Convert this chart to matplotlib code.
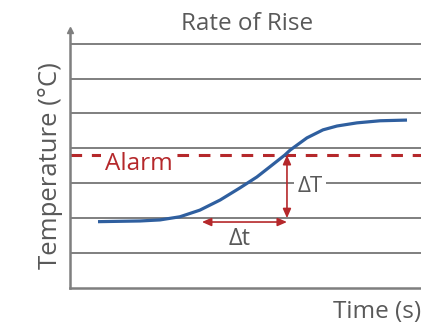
import matplotlib
matplotlib.use("Agg")
import matplotlib.pyplot as plt

plt.rcParams['font.family'] = ['Open Sans', 'DejaVu Sans']

# temperature curve (arbitrary units)
time_vals = [0.8, 2.0, 2.57, 3.14, 3.71, 4.29, 4.86, 5.34, 5.71, 6.14, 6.29,
             6.77, 7.23, 7.63, 8.2, 8.86, 9.63]
temp_vals = [1.90, 1.92, 1.95, 2.04, 2.23, 2.52, 2.87, 3.18, 3.47, 3.81, 3.95,
             4.30, 4.53, 4.64, 4.73, 4.79, 4.81]
grid_levels = [1, 2, 3, 4, 5, 6, 7]
alarm_level = 3.81
dT_x, dT_bottom = 6.2, 2.0
dt_start, dt_end, dt_level = 3.77, 6.2, 1.89

grey = '#7f7f7f'
txt = '#595959'
red = '#b5282b'
blue = '#2f5f9f'

fig = plt.figure(figsize=(4.21, 3.24), dpi=100)
ax = fig.add_axes([70 / 421, 36 / 324, 351 / 421, 258 / 324])
ax.set_xlim(0, 10.03)
ax.set_ylim(0, 7.39)

for g in grid_levels:
    ax.axhline(g, color=grey, lw=1.4, zorder=1)

ax.axhline(alarm_level, color=red, lw=2.2, dashes=(3.8, 3.2), zorder=2)
ax.plot(time_vals, temp_vals, color=blue, lw=2.3, solid_capstyle='butt',
        solid_joinstyle='round', zorder=4)

# delta arrows
arrow = dict(arrowstyle='<|-|>,head_length=0.5,head_width=0.22', color=red, lw=1.2,
             mutation_scale=11, shrinkA=0, shrinkB=0)
ax.annotate('', xy=(dT_x, alarm_level), xytext=(dT_x, dT_bottom), arrowprops=arrow, zorder=5)
ax.annotate('', xy=(dt_start, dt_level), xytext=(dt_end, dt_level), arrowprops=arrow, zorder=5)

box = dict(facecolor='white', edgecolor='none', pad=2.5)
ax.text(1.96, 3.38, 'Alarm', color=red, fontsize=17.5, ha='center', va='baseline',
        bbox=box, zorder=3)
ax.text(6.86, 2.75, 'ΔT', color=txt, fontsize=16, ha='center', va='baseline',
        bbox=box, zorder=3)
ax.text(4.86, 1.23, 'Δt', color=txt, fontsize=17, ha='center', va='baseline', zorder=3)

for s in ['top', 'right']:
    ax.spines[s].set_visible(False)
for s in ['left', 'bottom']:
    ax.spines[s].set_color(grey)
    ax.spines[s].set_linewidth(1.8)
ax.plot([0], [7.39], marker='^', color=grey, markersize=5, clip_on=False, zorder=6)
ax.set_xticks([])
ax.set_yticks([])

fig.text(247 / 421, 1 - 24 / 324, 'Rate of Rise', color=txt, fontsize=17.5,
         ha='center', va='center')
fig.text(51 / 421, 1 - 166 / 324, 'Temperature (°C)', color=txt, fontsize=18.5,
         ha='center', va='center', rotation=90)
fig.text(333 / 421, 1 - 318 / 324, 'Time (s)', color=txt, fontsize=17.5,
         ha='left', va='baseline')

fig.savefig('out.png', dpi=100)
